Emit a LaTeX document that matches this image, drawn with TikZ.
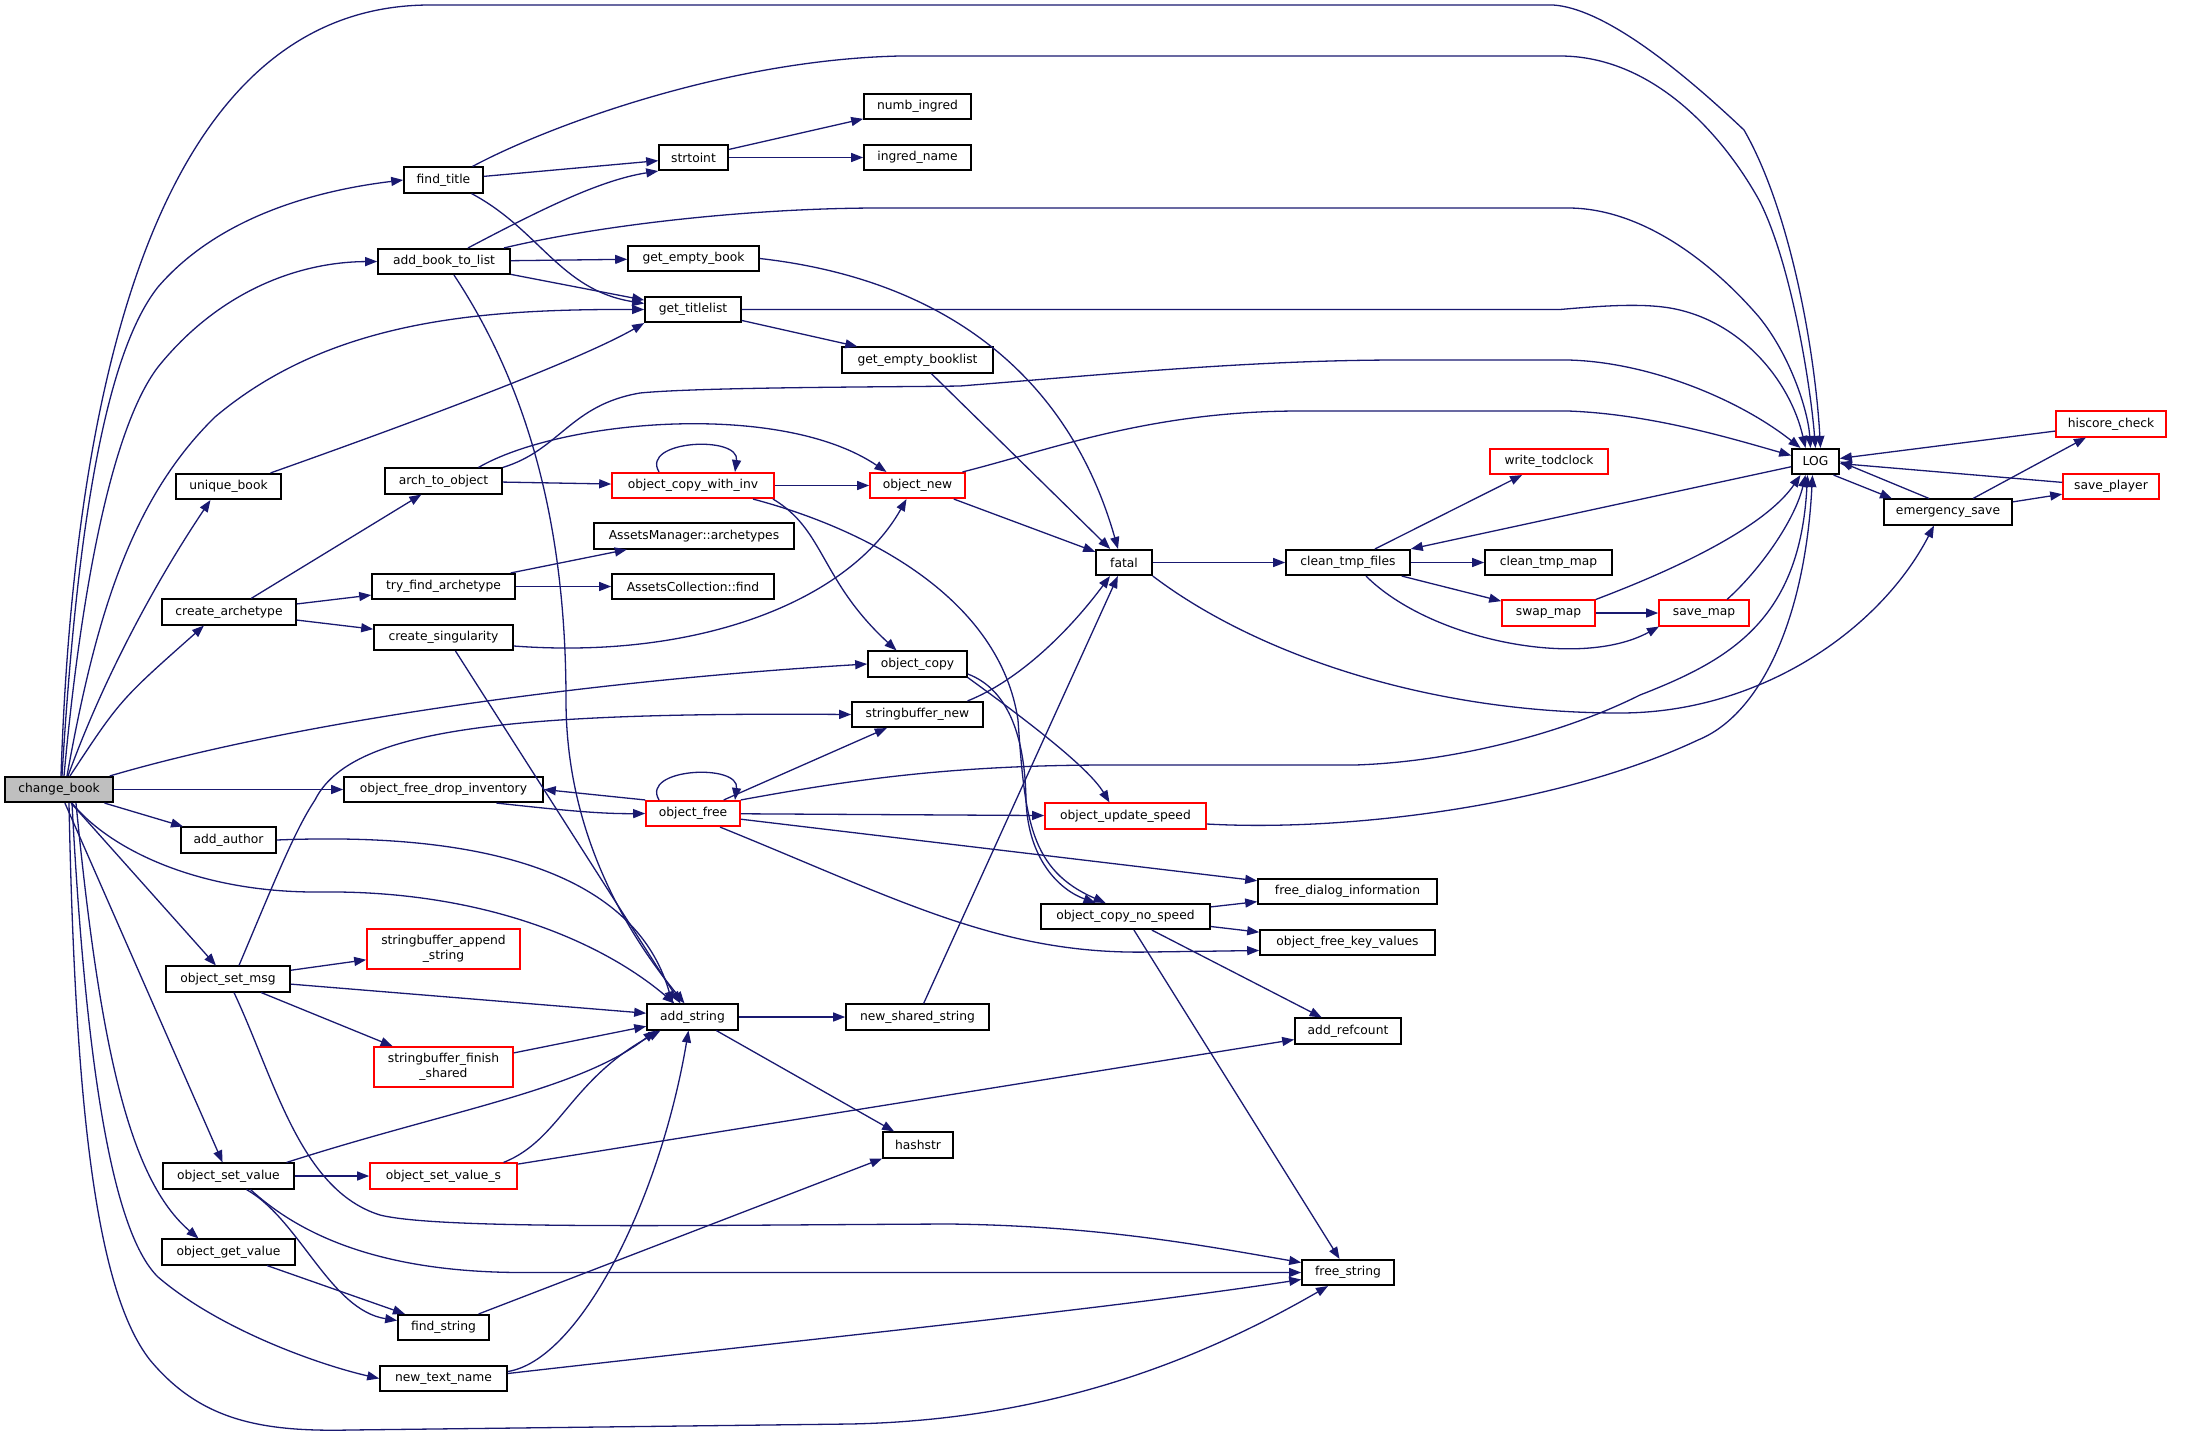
\documentclass[tikz,border=0pt]{standalone}
\usepackage{fontspec}
\setmainfont{DejaVu Sans}
\usetikzlibrary{arrows.meta}
\definecolor{edgeblue}{HTML}{191970}
\definecolor{rootgray}{HTML}{BFBFBF}
\begin{document}
\begin{tikzpicture}[x=1pt,y=-1pt,
  nd/.style={draw=black, line width=1.6pt, fill=white, minimum height=25.5pt, inner sep=0pt, align=center, font=\fontsize{12.3pt}{14.5pt}\selectfont},
  rd/.style={nd, draw=red},
  rootnd/.style={nd, fill=rootgray},
  edg/.style={draw=edgeblue, line width=1.3pt, -{Triangle[length=12pt,width=9pt]}}]
\useasboundingbox (0,0) rectangle (2196,1438);
% nodes
\node[rootnd, minimum width=108pt] (cb) at (59,789.5) {change\_book};
\node[nd, minimum width=79pt] (ft) at (443.5,180) {find\_title};
\node[nd, minimum width=69pt] (sti) at (693.5,157.5) {strtoint};
\node[nd, minimum width=132pt] (abl) at (444,261.5) {add\_book\_to\_list};
\node[nd, minimum width=131pt] (geb) at (693.5,258.5) {get\_empty\_book};
\node[nd, minimum width=96pt] (gtl) at (693,309.5) {get\_titlelist};
\node[nd, minimum width=107pt] (ni) at (917.5,106.5) {numb\_ingred};
\node[nd, minimum width=107pt] (ina) at (917.5,157.5) {ingred\_name};
\node[nd, minimum width=151pt] (gebl) at (917.5,360) {get\_empty\_booklist};
\node[nd, minimum width=105pt] (ub) at (228.5,486.5) {unique\_book};
\node[nd, minimum width=117pt] (ato) at (443.5,481) {arch\_to\_object};
\node[rd, minimum width=162pt] (ocwi) at (693,485.5) {object\_copy\_with\_inv};
\node[rd, minimum width=95pt] (onew) at (917.5,485.5) {object\_new};
\node[nd, minimum width=200pt] (ama) at (694,536) {AssetsManager::archetypes};
\node[nd, minimum width=162pt] (acf) at (693,586.5) {AssetsCollection::find};
\node[nd, minimum width=143pt] (tfa) at (443.5,586.5) {try\_find\_archetype};
\node[nd, minimum width=134pt] (ca) at (229,612) {create\_archetype};
\node[nd, minimum width=139pt] (cs) at (443.5,637.5) {create\_singularity};
\node[nd, minimum width=99pt] (oc) at (917.5,664) {object\_copy};
\node[nd, minimum width=131pt] (sbn) at (917.5,714.5) {stringbuffer\_new};
\node[nd, minimum width=199pt] (ofdi) at (443.5,789.5) {object\_free\_drop\_inventory};
\node[rd, minimum width=94pt] (ofr) at (693,813.5) {object\_free};
\node[nd, minimum width=95pt] (aa) at (228.5,840) {add\_author};
\node[rd, minimum width=161pt] (ous) at (1125.5,816) {object\_update\_speed};
\node[nd, minimum width=179pt] (fdi) at (1347.5,891.5) {free\_dialog\_information};
\node[nd, minimum width=169pt] (ocns) at (1125.5,916.5) {object\_copy\_no\_speed};
\node[nd, minimum width=175pt] (ofkv) at (1347.5,942.5) {object\_free\_key\_values};
\node[nd, minimum width=124pt] (osm) at (228,979) {object\_set\_msg};
\node[rd, minimum width=153pt, minimum height=40pt] (sbas) at (443.5,949) {stringbuffer\_append\\\_string};
\node[nd, minimum width=91pt] (adds) at (692.5,1017) {add\_string};
\node[nd, minimum width=143pt] (nss) at (917.5,1017) {new\_shared\_string};
\node[rd, minimum width=139pt, minimum height=40pt] (sbfs) at (443.5,1067) {stringbuffer\_finish\\\_shared};
\node[nd, minimum width=106pt] (arc) at (1348,1031) {add\_refcount};
\node[nd, minimum width=70pt] (hs) at (918,1145) {hashstr};
\node[nd, minimum width=131pt] (osv) at (228.5,1176) {object\_set\_value};
\node[rd, minimum width=147pt] (osvs) at (443.5,1176) {object\_set\_value\_s};
\node[nd, minimum width=133pt] (ogv) at (228.5,1252) {object\_get\_value};
\node[nd, minimum width=91pt] (fs) at (443.5,1327.5) {find\_string};
\node[nd, minimum width=127pt] (ntn) at (443.5,1378.5) {new\_text\_name};
\node[nd, minimum width=92pt] (frs) at (1348,1272.5) {free\_string};
\node[nd, minimum width=56pt] (fatal) at (1124,562.5) {fatal};
\node[nd, minimum width=124pt] (ctf) at (1348,562.5) {clean\_tmp\_files};
\node[nd, minimum width=127pt] (ctm) at (1548.5,562.5) {clean\_tmp\_map};
\node[rd, minimum width=118pt] (wtc) at (1549,461.5) {write\_todclock};
\node[rd, minimum width=93pt] (swm) at (1548.5,613) {swap\_map};
\node[rd, minimum width=90pt] (svm) at (1704,613) {save\_map};
\node[nd, minimum width=47pt] (log) at (1815.5,461.5) {LOG};
\node[nd, minimum width=128pt] (es) at (1948,512) {emergency\_save};
\node[rd, minimum width=110pt] (hc) at (2111,424) {hiscore\_check};
\node[rd, minimum width=96pt] (sp) at (2111,486.5) {save\_player};
% edges from change_book
\draw[edg] ([xshift=2pt]cb.north) .. controls (75,350) and (170,5) .. (430,5) -- (1553,5) .. controls (1600,8) and (1670,60) .. (1744,130) .. controls (1790,210) and (1815,350) .. ([xshift=5pt]log.north);
\draw[edg] ([xshift=3pt]cb.north) .. controls (75,560) and (100,360) .. (158,287) .. controls (220,215) and (320,190) .. (ft.west);
\draw[edg] ([xshift=5pt]cb.north) .. controls (80,600) and (110,430) .. (158,367) .. controls (220,290) and (300,262) .. (abl.west);
\draw[edg] ([xshift=8pt]cb.north) .. controls (95,620) and (130,500) .. (215,417) .. controls (330,320) and (480,309) .. (gtl.west);
\draw[edg] ([xshift=9pt]cb.north) .. controls (110,660) and (170,560) .. ([xshift=-18pt]ub.south);
\draw[edg] ([xshift=11pt]cb.north) .. controls (120,700) .. ([xshift=-25pt]ca.south);
\draw[edg] ([xshift=-4pt]cb.north east) .. controls (300,720) and (600,680) .. (oc.west);
\draw[edg] (cb.east) -- (ofdi.west);
\draw[edg] (cb) -- (aa);
\draw[edg] ([xshift=13pt]cb.south) .. controls (110,850) and (200,893) .. (320,892) .. controls (480,890) and (600,940) .. ([xshift=-18pt]adds.north);
\draw[edg] (cb) -- (osm);
\draw[edg] (cb) -- (osv);
\draw[edg] ([xshift=17pt]cb.south) .. controls (100,1050) and (130,1180) .. ([xshift=-30pt]ogv.north);
\draw[edg] ([xshift=13pt]cb.south) .. controls (85,1050) and (110,1230) .. (158,1277) .. controls (220,1330) and (320,1365) .. (ntn.west);
\draw[edg] ([xshift=10pt]cb.south) .. controls (75,1100) and (95,1290) .. (150,1360) .. controls (200,1420) and (260,1432) .. (350,1430) -- (850,1424) .. controls (1050,1420) and (1200,1360) .. ([xshift=-20pt]frs.south);
% find_title, add_book_to_list
\draw[edg] ([xshift=29pt]ft.north) .. controls (540,130) and (720,60) .. (900,56) -- (1560,56) .. controls (1650,56) and (1720,130) .. (1759,200) .. controls (1790,260) and (1810,380) .. (log.north);
\draw[edg] (ft) -- (sti);
\draw[edg] ([xshift=28pt]ft.south) .. controls (540,230) and (560,290) .. ([yshift=6pt]gtl.west);
\draw[edg] ([xshift=24pt]abl.north) .. controls (540,210) and (600,180) .. (sti.south west);
\draw[edg] ([xshift=60pt]abl.north) .. controls (600,225) and (750,208) .. (880,208) -- (1568,208) .. controls (1640,208) and (1710,260) .. (1759,317) .. controls (1790,355) and (1808,410) .. ([xshift=-5pt]log.north);
\draw[edg] (abl) -- (geb);
\draw[edg] (abl) -- (gtl);
\draw[edg] ([xshift=10pt]abl.south) .. controls (530,390) and (566,530) .. (566,700) .. controls (566,800) and (600,900) .. ([xshift=-8pt]adds.north);
\draw[edg] (sti) -- (ni);
\draw[edg] (sti) -- (ina);
\draw[edg] (geb.east) .. controls (950,280) and (1070,380) .. ([xshift=-6pt]fatal.north);
\draw[edg] (gtl.east) -- (1560,309.5) .. controls (1600,306) and (1640,303) .. (1670,308) .. controls (1740,320) and (1790,380) .. ([xshift=-10pt]log.north);
\draw[edg] (gtl) -- (gebl);
\draw[edg] (gebl) -- (fatal);
\draw[edg] ([xshift=42pt]ub.north) .. controls (420,420) and (580,360) .. (gtl.south west);
% arch_to_object and friends
\draw[edg] (ato.north east) .. controls (560,450) and (570,405) .. (640,393) .. controls (700,387) and (900,387) .. (960,386) .. controls (1100,375) and (1250,360) .. (1400,360) -- (1568,360) .. controls (1650,362) and (1740,400) .. ([xshift=-15pt]log.north);
\draw[edg] ([xshift=35pt]ato.north) .. controls (560,420) and (780,400) .. ([xshift=-31pt]onew.north);
\draw[edg] (ato) -- (ocwi);
\draw[edg] ([xshift=-34pt]ocwi.north) .. controls (640,440) and (740,435) .. ([xshift=42pt]ocwi.north);
\draw[edg] (ocwi) -- (onew);
\draw[edg] ([xshift=80pt]ocwi.south) .. controls (825,530) and (820,580) .. ([xshift=-21pt]oc.north);
\draw[edg] ([xshift=60pt]ocwi.south) .. controls (870,530) and (1000,600) .. (1018,720) .. controls (1025,820) and (1030,870) .. ([xshift=-20pt]ocns.north);
\draw[edg] ([xshift=45pt]onew.north) .. controls (1050,450) and (1150,411) .. (1300,411) -- (1568,411) .. controls (1650,414) and (1730,438) .. ([yshift=6pt]log.west);
\draw[edg] (onew) -- (fatal);
\draw[edg] (ca) -- (ato);
\draw[edg] (ca) -- (tfa);
\draw[edg] (ca) -- (cs);
\draw[edg] (tfa) -- (ama);
\draw[edg] (tfa) -- (acf);
\draw[edg] ([yshift=-8.5pt]cs.east) .. controls (700,660) and (850,600) .. ([xshift=-11pt]onew.south);
\draw[edg] ([xshift=12pt]cs.south) -- ([xshift=-12pt]adds.north);
\draw[edg] (oc.south east) .. controls (1040,730) and (1090,770) .. ([xshift=-16pt]ous.north);
\draw[edg] ([yshift=-10pt]oc.east) .. controls (1010,690) and (1025,740) .. (1026,800) .. controls (1028,860) and (1060,890) .. ([xshift=-30pt]ocns.north);
\draw[edg] ([xshift=50pt]sbn.north) .. controls (1020,680) and (1070,630) .. ([xshift=-14pt]fatal.south);
% object_free
\draw[edg] ([xshift=53pt]ofdi.south) .. controls (560,810) and (600,814) .. (ofr.west);
\draw[edg] (ofr.north west) -- (ofdi.east);
\draw[edg] ([xshift=-34pt]ofr.north) .. controls (640,768) and (740,763) .. ([xshift=42pt]ofr.north);
\draw[edg] (ofr) -- (sbn);
\draw[edg] (ofr.north east) .. controls (850,780) and (950,765) .. (1110,765) -- (1355,765) .. controls (1450,762) and (1560,735) .. (1640,695) .. controls (1730,660) and (1800,620) .. ([xshift=-8pt]log.south);
\draw[edg] (ofr) -- (ous);
\draw[edg] (ofr) -- (fdi);
\draw[edg] ([xshift=27pt]ofr.south) .. controls (900,900) and (1000,955) .. (1150,952) -- ([yshift=-8pt]ofkv.west);
\draw[edg] ([yshift=-8pt]ous.east) .. controls (1350,832) and (1560,805) .. (1698,740) .. controls (1760,715) and (1805,620) .. ([xshift=-3pt]log.south);
% fatal and right part
\draw[edg] (fatal) -- (ctf);
\draw[edg] (fatal.south east) .. controls (1250,650) and (1420,713) .. (1620,713) .. controls (1760,713) and (1880,630) .. ([xshift=-14pt]es.south);
\draw[edg] (ctf) -- (wtc);
\draw[edg] (ctf) -- (ctm);
\draw[edg] (ctf) -- (swm);
\draw[edg] ([xshift=18pt]ctf.south) .. controls (1430,640) and (1580,670) .. ([xshift=-45pt]svm.south);
\draw[edg] (swm) -- (svm);
\draw[edg] (swm.north east) .. controls (1700,560) and (1770,520) .. ([xshift=-15pt]log.south);
\draw[edg] ([xshift=23pt]svm.north) .. controls (1760,570) and (1795,520) .. ([xshift=-10pt]log.south);
\draw[edg] (log) -- (ctf);
\draw[edg] ([xshift=18pt]log.south) -- ([xshift=-56pt]es.north);
\draw[edg] ([xshift=-19pt]es.north) -- (log.east);
\draw[edg] (es) -- (hc);
\draw[edg] (es) -- (sp);
\draw[edg] (hc) -- (log);
\draw[edg] (sp) -- (log);
\draw[edg] (ocns) -- (fdi);
\draw[edg] (ocns) -- (ofkv);
\draw[edg] (ocns) -- (arc);
\draw[edg] (ocns) -- (frs);
% lower left
\draw[edg] (aa.east) .. controls (520,830) and (640,890) .. ([xshift=-20pt]adds.north);
\draw[edg] ([xshift=11pt]osm.north) .. controls (275,880) and (295,830) .. (315,800) .. controls (350,730) and (500,712) .. (sbn.west);
\draw[edg] (osm) -- (sbas);
\draw[edg] (osm) -- (adds);
\draw[edg] (osm) -- (sbfs);
\draw[edg] ([xshift=6pt]osm.south) .. controls (275,1080) and (300,1190) .. (380,1215) .. controls (440,1230) and (700,1225) .. (950,1224) .. controls (1100,1226) and (1200,1245) .. ([yshift=10pt]frs.west);
\draw[edg] (sbfs) -- (adds);
\draw[edg] (adds) -- (nss);
\draw[edg] (adds) -- (hs);
\draw[edg] (nss) -- (fatal);
\draw[edg] ([xshift=58pt]osv.north) .. controls (450,1110) and (580,1090) .. ([xshift=-37pt]adds.south);
\draw[edg] (osv) -- (osvs);
\draw[edg] ([xshift=18pt]osv.south) .. controls (300,1220) and (330,1310) .. ([yshift=7pt]fs.west);
\draw[edg] ([xshift=22pt]osv.south) .. controls (300,1235) and (380,1272) .. (520,1272.5) -- (frs.west);
\draw[edg] ([xshift=60pt]osvs.north) .. controls (560,1140) and (570,1080) .. ([xshift=-32pt]adds.south);
\draw[edg] (osvs) -- (arc);
\draw[edg] (ogv) -- (fs);
\draw[edg] (fs) -- (hs.south west);
\draw[edg] ([yshift=7pt]ntn.east) .. controls (580,1360) and (660,1200) .. ([xshift=-4pt]adds.south);
\draw[edg] ([yshift=5pt]ntn.east) .. controls (800,1340) and (1100,1310) .. ([yshift=-7pt]frs.west);
\end{tikzpicture}
\end{document}
